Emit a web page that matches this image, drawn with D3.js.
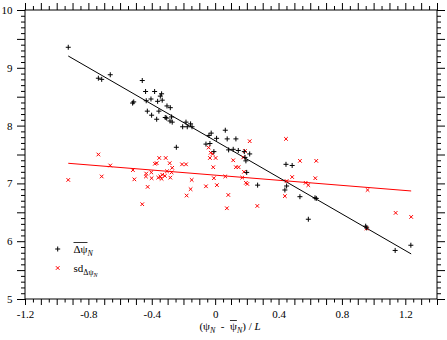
<!DOCTYPE html>
<html>
<head>
<meta charset="utf-8">
<script src="https://cdn.jsdelivr.net/npm/d3@7"></script>
<style>
  body { margin: 0; background: #fff; }
  text { font-family: "Liberation Serif", "Times New Roman", serif; }
</style>
</head>
<body>
<script>
// mean shift points (black +)
var meanX = [-0.927,-0.737,-0.716,-0.662,-0.460,-0.439,-0.382,-0.338,-0.346,-0.405,-0.334,-0.363,-0.514,-0.521,-0.435,
  -0.304,-0.283,-0.428,-0.355,-0.401,-0.369,-0.315,-0.306,-0.285,-0.271,-0.275,-0.184,-0.205,-0.176,-0.155,-0.146,
  -0.245,-0.058,-0.039,-0.025,-0.033,0.009,0.064,0.076,0.131,0.085,0.114,0.146,-0.008,0.184,0.218,0.188,0.194,
  0.199,0.268,0.447,0.486,0.451,0.440,0.535,0.588,0.630,0.638,0.950,0.956,1.136,1.235];
var meanY = [9.355,8.82,8.80,8.88,8.78,8.59,8.59,8.55,8.51,8.46,8.44,8.42,8.41,8.39,8.43,
  8.34,8.31,8.25,8.25,8.18,8.11,8.14,8.13,8.08,8.06,8.15,8.06,7.98,7.98,8.03,7.98,
  7.625,7.68,7.83,7.87,7.69,7.78,7.92,7.77,7.77,7.58,7.59,7.57,7.55,7.55,7.51,7.45,7.39,
  7.19,6.97,7.33,7.31,6.955,6.886,6.77,6.38,6.75,6.74,6.26,6.23,5.84,5.93];
// standard deviation points (red x)
var sdX = [-0.927,-0.737,-0.662,-0.716,-0.519,-0.510,-0.426,-0.460,-0.435,-0.437,-0.403,-0.401,-0.380,-0.369,-0.353,
  -0.312,-0.287,-0.271,-0.359,-0.346,-0.334,-0.338,-0.317,-0.304,-0.283,-0.275,-0.209,-0.184,-0.148,-0.155,-0.180,
  -0.058,-0.008,0.011,-0.012,-0.041,-0.028,-0.033,0.003,-0.016,0.064,0.083,0.074,0.114,0.131,0.148,0.171,0.182,
  0.188,0.218,0.194,0.203,0.266,0.177,0.447,0.535,0.638,0.486,0.451,0.571,0.588,0.632,0.440,0.962,0.956,1.139,1.237];
var sdY = [7.06,7.50,7.31,7.12,7.23,7.07,6.94,6.64,7.17,7.12,7.19,7.09,7.34,7.35,7.44,
  7.44,7.35,7.27,7.10,7.12,7.15,7.08,7.13,7.21,7.10,7.19,7.33,7.33,7.06,6.90,6.79,
  6.95,7.09,6.97,7.28,7.62,7.53,7.44,7.44,7.51,7.12,6.80,6.57,7.40,7.28,7.28,7.10,7.20,
  7.56,7.73,7.01,6.99,6.61,7.45,7.77,7.39,7.39,7.11,7.04,7.01,6.97,7.09,6.78,6.886,6.22,6.49,6.42];
// fitted lines (end points)
var fitX = [-0.927, 1.237];
var meanFitY = [9.204, 5.78];
var sdFitY = [7.348, 6.869];
var xLabels = [-1.2, -0.8, -0.4, 0, 0.4, 0.8, 1.2];
var yLabels = [5, 6, 7, 8, 9, 10];

var margin = {top: 10, right: 10, bottom: 41, left: 25};
var width = 447 - margin.left - margin.right,
    height = 340 - margin.top - margin.bottom;

var svg = d3.select("body").append("svg")
    .attr("width", 447)
    .attr("height", 340)
  .append("g")
    .attr("transform", "translate(" + margin.left + "," + margin.top + ")");

var x = d3.scaleLinear().domain([-1.2, 1.4]).range([0, width]);
var y = d3.scaleLinear().domain([5, 10]).range([height, 0]);

function fmt(d) { return String(+d.toFixed(1)); }
function near(a, list) { return list.some(function(v){ return Math.abs(v - a) < 1e-6; }); }

var xMajor = d3.range(-12, 15).map(function(i){ return i / 10; });
var xMinor = d3.range(-12, 14).map(function(i){ return i / 10 + 0.05; });
var yMajor = d3.range(10, 21).map(function(i){ return i / 2; });
var yMinor = d3.range(50, 101).map(function(i){ return i / 10; }).filter(function(v){ return !near(v, yMajor); });

function styleAxis(g) {
  g.select(".domain").remove();
  g.selectAll("line").attr("stroke", "#000");
  g.selectAll("text").attr("font-family", "Liberation Serif").attr("font-size", 11).attr("fill", "#000");
}

// bottom
svg.append("g").attr("transform", "translate(0," + height + ")")
  .call(d3.axisBottom(x).tickValues(xMajor).tickSize(6).tickPadding(5)
    .tickFormat(function(d){ return near(d, xLabels) ? fmt(d) : ""; }))
  .call(styleAxis);
svg.append("g").attr("transform", "translate(0," + height + ")")
  .call(d3.axisBottom(x).tickValues(xMinor).tickSize(3.5).tickFormat(""))
  .call(styleAxis);
// top
svg.append("g")
  .call(d3.axisTop(x).tickValues(xMajor).tickSize(7).tickFormat(""))
  .call(styleAxis);
svg.append("g")
  .call(d3.axisTop(x).tickValues(xMinor).tickSize(4).tickFormat(""))
  .call(styleAxis);
// left
svg.append("g")
  .call(d3.axisLeft(y).tickValues(yMajor).tickSize(8).tickPadding(4.5)
    .tickFormat(function(d){ return near(d, yLabels) ? fmt(d) : ""; }))
  .call(styleAxis);
svg.append("g")
  .call(d3.axisLeft(y).tickValues(yMinor).tickSize(4).tickFormat(""))
  .call(styleAxis);
// right
svg.append("g").attr("transform", "translate(" + width + ",0)")
  .call(d3.axisRight(y).tickValues(yMajor).tickSize(8).tickFormat(""))
  .call(styleAxis);
svg.append("g").attr("transform", "translate(" + width + ",0)")
  .call(d3.axisRight(y).tickValues(yMinor).tickSize(4).tickFormat(""))
  .call(styleAxis);

// frame
svg.append("rect").attr("x", 0).attr("y", 0).attr("width", width).attr("height", height)
  .attr("fill", "none").attr("stroke", "#000").attr("stroke-width", 1);

// fit lines
var line = d3.line().x(function(d){ return x(d[0]); }).y(function(d){ return y(d[1]); });
svg.append("path").attr("d", line(d3.zip(fitX, sdFitY)))
  .attr("fill", "none").attr("stroke", "#ff0000").attr("stroke-width", 1);
svg.append("path").attr("d", line(d3.zip(fitX, meanFitY)))
  .attr("fill", "none").attr("stroke", "#000").attr("stroke-width", 1);

var plusPath = "M-2.5,0H2.5M0,-2.5V2.5";
var crossPath = "M-1.8,-1.8L1.8,1.8M-1.8,1.8L1.8,-1.8";

svg.append("g").selectAll("path")
  .data(d3.zip(sdX, sdY))
  .enter().append("path")
    .attr("transform", function(d){ return "translate(" + x(d[0]) + "," + y(d[1]) + ")"; })
    .attr("d", crossPath)
    .attr("stroke", "#ff0000").attr("stroke-width", 1).attr("fill", "none");

svg.append("g").selectAll("path")
  .data(d3.zip(meanX, meanY))
  .enter().append("path")
    .attr("transform", function(d){ return "translate(" + x(d[0]) + "," + y(d[1]) + ")"; })
    .attr("d", plusPath)
    .attr("stroke", "#000").attr("stroke-width", 1).attr("fill", "none");

// legend
var root = d3.select("svg");
root.append("path").attr("transform", "translate(57.7,249)").attr("d", plusPath)
  .attr("stroke", "#000").attr("fill", "none");
root.append("path").attr("transform", "translate(57.7,268)").attr("d", crossPath)
  .attr("stroke", "#ff0000").attr("fill", "none");

var l1 = root.append("text").attr("x", 73.5).attr("y", 253).attr("font-size", 11);
l1.append("tspan").text("\u0394\u03c8");
l1.append("tspan").attr("font-size", 8).attr("font-style", "italic").attr("dy", 3).text("N");
var b1s = l1.node().getStartPositionOfChar(0), b1e = l1.node().getEndPositionOfChar(1);
root.append("line").attr("x1", b1s.x).attr("x2", b1e.x).attr("y1", 242.5).attr("y2", 242.5)
  .attr("stroke", "#000").attr("stroke-width", 0.8);

var l2 = root.append("text").attr("x", 73.5).attr("y", 272).attr("font-size", 11);
l2.append("tspan").text("sd");
l2.append("tspan").attr("font-size", 8).attr("dy", 3).text("\u0394\u03c8");
l2.append("tspan").attr("font-size", 6).attr("font-style", "italic").attr("dy", 2).text("N");

// x axis title
var t = root.append("text").attr("x", 230).attr("y", 330).attr("text-anchor", "middle")
  .attr("font-size", 11).style("white-space", "pre");
t.append("tspan").text("(\u03c8");
t.append("tspan").attr("font-size", 8).attr("font-style", "italic").attr("dy", 3).text("N");
t.append("tspan").attr("dy", -3).text("  -  \u03c8");
t.append("tspan").attr("font-size", 8).attr("font-style", "italic").attr("dy", 3).text("N");
t.append("tspan").attr("dy", -3).text(") / ");
t.append("tspan").attr("font-style", "italic").text("L");
var ps = t.node().getStartPositionOfChar(8), pe = t.node().getEndPositionOfChar(8);
root.append("line").attr("x1", ps.x).attr("x2", pe.x).attr("y1", 320.5).attr("y2", 320.5)
  .attr("stroke", "#000").attr("stroke-width", 0.8);
</script>
</body>
</html>
